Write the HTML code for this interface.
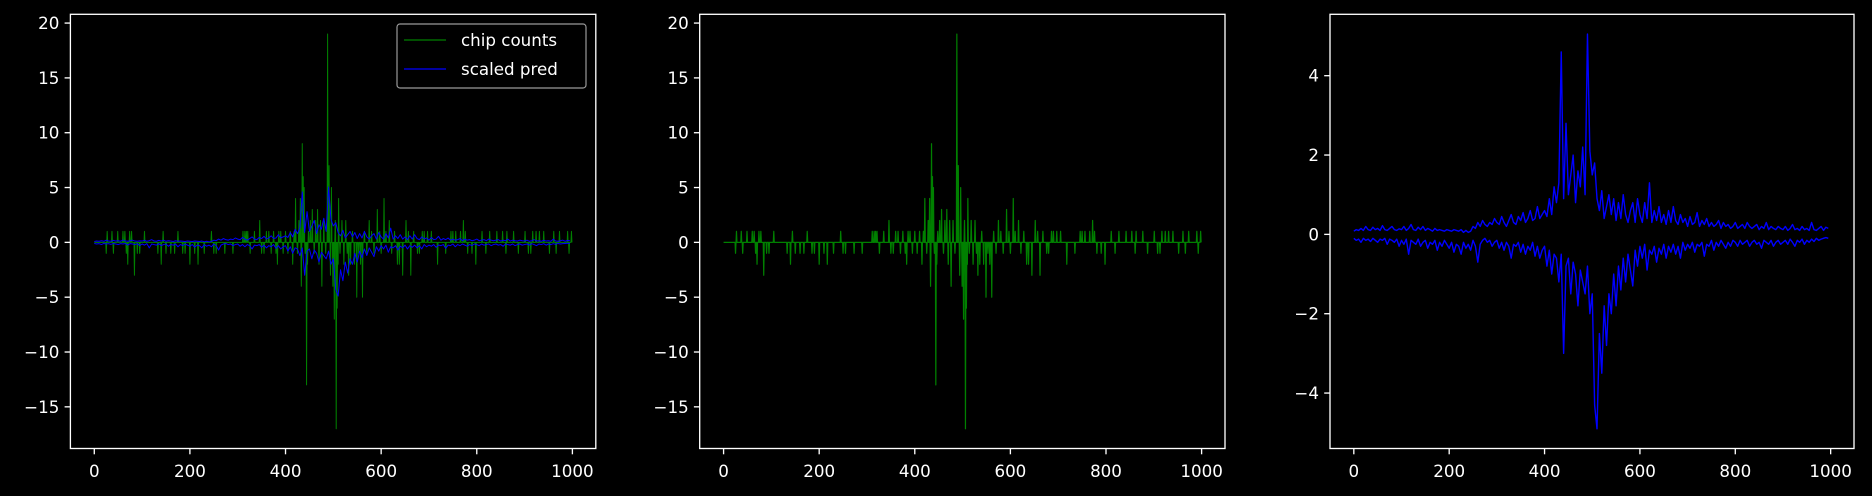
<!DOCTYPE html>
<html><head><meta charset="utf-8"><style>
html,body{margin:0;padding:0;background:#000;}
svg{display:block;font-family:"DejaVu Sans","Liberation Sans",sans-serif;}
</style></head><body>
<svg id="fig" width="1872" height="496" viewBox="0 0 1872 496" xmlns="http://www.w3.org/2000/svg">
<rect width="1872" height="496" fill="#000"/>
</svg>
<script>
const chipIdx = [25,27,37,40,49,60,64,67,70,74,78,84,90,95,105,133,140,144,150,160,168,175,185,190,200,210,217,230,245,250,255,273,290,311,315,318,321,326,335,346,350,355,360,365,370,375,380,383,386,390,395,400,405,410,415,418,421,425,428,431,433,435,437,439,441,444,446,448,452,456,460,463,467,470,473,476,480,484,488,491,494,496,499,502,504,506,508,510,511,514,518,522,526,529,532,536,540,544,549,553,557,561,565,570,575,580,585,592,597,600,606,610,617,622,628,634,638,645,652,657,662,668,676,680,686,690,697,705,718,735,746,750,756,766,772,776,781,790,798,811,819,827,842,854,861,863,877,887,901,908,913,917,924,931,940,952,961,966,973,990,993,998];
const chipVal = [-1,1,1,-1,1,1,1,-1,-2,1,1,-3,-1,-1,1,-1,-2,1,-1,-1,-1,1,-1,-1,-2,-1,-2,-1,1,-1,-1,-1,-1,1,1,1,1,-1,1,2,-1,-1,1,1,-1,1,-1,-2,1,1,-1,1,-1,1,-2,1,4,-1,2,4,-4,9,6,5,-1,-13,-2,1,2,3,-1,2,3,-2,2,-4,2,-1,19,7,-3,5,-4,-7,2,-17,-6,-2,4,-1,2,-2,2,-1,-3,-2,1,-2,-5,-1,-2,-5,1,-1,2,1,-1,3,1,-1,4,1,2,-1,1,-2,-2,-3,2,1,-3,1,-1,-1,1,1,1,1,-2,-1,1,1,1,1,2,1,-1,-1,-2,1,-1,1,1,1,-1,1,1,-1,1,-1,-1,1,1,1,1,-1,1,-1,1,1,-1,1];
const predStep = 5;
const predPos = [0.08,0.12,0.1,0.15,0.1,0.2,0.12,0.1,0.18,0.12,0.15,0.1,0.22,0.12,0.1,0.15,0.2,0.12,0.1,0.14,
0.12,0.2,0.1,0.15,0.25,0.12,0.1,0.18,0.12,0.2,0.1,0.15,0.12,0.08,0.15,0.1,0.12,0.1,0.08,0.12,
0.1,0.08,0.12,0.1,0.08,0.12,0.05,0.1,0.05,0.08,0.2,0.15,0.3,0.2,0.35,0.25,0.2,0.3,0.25,0.4,
0.3,0.25,0.45,0.3,0.2,0.35,0.5,0.3,0.25,0.45,0.35,0.55,0.3,0.4,0.6,0.35,0.4,0.7,0.4,0.5,
0.6,0.45,0.9,0.5,1.2,0.8,1.3,4.6,0.9,2.8,1.0,1.5,2.0,0.8,1.6,1.2,2.2,1.0,5.05,2.1,
1.5,1.8,0.9,0.6,1.1,0.4,0.7,1.0,0.5,0.9,0.35,0.8,0.4,1.0,0.5,0.3,0.6,0.8,0.3,0.9,
0.5,0.3,0.8,0.4,1.3,0.3,0.6,0.35,0.7,0.3,0.5,0.25,0.6,0.3,0.7,0.35,0.25,0.5,0.3,0.4,
0.2,0.45,0.25,0.3,0.55,0.2,0.35,0.25,0.4,0.2,0.3,0.2,0.25,0.35,0.15,0.3,0.2,0.25,0.15,0.2,
0.3,0.15,0.2,0.25,0.15,0.3,0.2,0.15,0.2,0.25,0.12,0.2,0.15,0.3,0.12,0.2,0.15,0.12,0.2,0.15,
0.12,0.2,0.1,0.15,0.25,0.12,0.15,0.1,0.2,0.12,0.15,0.1,0.3,0.12,0.1,0.15,0.2,0.1,0.18,0.15];
const predNeg = [-0.1,-0.15,-0.12,-0.2,-0.1,-0.15,-0.12,-0.18,-0.1,-0.15,-0.2,-0.12,-0.15,-0.1,-0.25,-0.12,-0.15,-0.2,-0.12,-0.3,
-0.15,-0.25,-0.12,-0.5,-0.15,-0.2,-0.25,-0.12,-0.3,-0.2,-0.15,-0.35,-0.2,-0.25,-0.15,-0.4,-0.2,-0.3,-0.15,-0.25,
-0.35,-0.2,-0.45,-0.25,-0.3,-0.5,-0.2,-0.35,-0.25,-0.4,-0.15,-0.3,-0.7,-0.25,-0.15,-0.1,-0.2,-0.15,-0.3,-0.2,
-0.15,-0.35,-0.2,-0.4,-0.2,-0.3,-0.6,-0.25,-0.3,-0.2,-0.45,-0.25,-0.5,-0.3,-0.4,-0.2,-0.55,-0.3,-0.6,-0.4,
-0.3,-0.8,-0.4,-1.0,-0.5,-0.6,-1.2,-0.5,-3.0,-0.8,-0.6,-1.5,-0.7,-1.0,-1.8,-0.9,-1.2,-1.5,-0.8,-2.0,
-1.5,-4.3,-4.9,-2.5,-3.5,-1.8,-2.8,-1.5,-2.0,-1.0,-1.8,-0.8,-1.4,-0.6,-1.2,-0.5,-0.9,-1.3,-0.4,-0.8,
-0.3,-0.6,-0.25,-0.9,-0.4,-0.5,-0.3,-0.7,-0.35,-0.5,-0.25,-0.6,-0.3,-0.45,-0.25,-0.5,-0.3,-0.6,-0.2,-0.4,
-0.25,-0.35,-0.2,-0.45,-0.25,-0.3,-0.2,-0.55,-0.25,-0.3,-0.15,-0.4,-0.2,-0.3,-0.15,-0.25,-0.35,-0.2,-0.3,-0.15,
-0.2,-0.3,-0.15,-0.25,-0.2,-0.15,-0.3,-0.2,-0.15,-0.25,-0.2,-0.35,-0.15,-0.2,-0.25,-0.15,-0.3,-0.2,-0.15,-0.25,
-0.2,-0.15,-0.25,-0.12,-0.2,-0.3,-0.15,-0.2,-0.12,-0.25,-0.15,-0.2,-0.12,-0.18,-0.1,-0.15,-0.12,-0.1,-0.08,-0.1];
const xTicks = [0,200,400,600,800,1000];
const yTicksChip = [-15,-10,-5,0,5,10,15,20];
const yTicksPred = [-4,-2,0,2,4];
const nPoints = 1000;

const NS = 'http://www.w3.org/2000/svg';
const svg = document.getElementById('fig');
function mk(tag, attrs, parent){ const e=document.createElementNS(NS,tag); for(const k in attrs) e.setAttribute(k,attrs[k]); (parent||svg).appendChild(e); return e; }

const chip = new Array(nPoints).fill(0);
chipIdx.forEach((ix,i)=>{ const v=chipVal[i]; if(typeof v==='number' && isFinite(v)) chip[ix]=v; });
const allPos = predPos.map((v,i)=>[i*predStep,v]);
const allNeg = predNeg.map((v,i)=>[i*predStep,v]);

const T=14.3, B=448.5;
function lim(vals){ let lo=Infinity,hi=-Infinity; vals.forEach(v=>{ if(isFinite(v)){ if(v<lo)lo=v; if(v>hi)hi=v; } }); const m=(hi-lo)*0.05; return [lo-m,hi+m]; }
const chipLim = lim(chip.concat(predPos,predNeg));
const predLim = lim(predPos.concat(predNeg));

function panel(name, L, R, ylim, yTicks, series, legend){
  const g = mk('g',{});
  
  
  const xlo=-0.05*(nPoints-1), xhi=(nPoints-1)*1.05;
  const sx = v=> L+(v-xlo)/(xhi-xlo)*(R-L);
  const sy = v=> B-(v-ylim[0])/(ylim[1]-ylim[0])*(B-T);
  const clipId='clip-'+name;
  const cp=mk('clipPath',{id:clipId},g); mk('rect',{x:L,y:T,width:R-L,height:B-T},cp);
  series.forEach(s=>{
    const d = s.pts.map((p,i)=>(i?'L':'M')+sx(p[0]).toFixed(2)+' '+sy(p[1]).toFixed(2)).join('');
    const p = mk('path',{d:d,fill:'none',stroke:s.color,'stroke-width':s.w,'stroke-linejoin':'round','clip-path':'url(#'+clipId+')'},g);
    
    
  });
  const frame = mk('rect',{x:L,y:T,width:R-L,height:B-T,fill:'none',stroke:'#fff','stroke-width':1.33},g);
  
  
  xTicks.forEach(t=>{
    const x=sx(t);
    mk('line',{x1:x,y1:B,x2:x,y2:B+5.8,stroke:'#fff','stroke-width':1.33},g);
    const tx=mk('text',{x:x,y:477,fill:'#fff','font-size':16.7,'text-anchor':'middle'},g);
    tx.textContent=t;
    
    
  });
  yTicks.forEach(t=>{
    const y=sy(t);
    mk('line',{x1:L,y1:y,x2:L-5.8,y2:y,stroke:'#fff','stroke-width':1.33},g);
    const tx=mk('text',{x:L-11,y:y+6,fill:'#fff','font-size':16.7,'text-anchor':'end'},g);
    tx.textContent=(t<0?'\u2212'+(-t):t);
    
    
  });
  if(legend){
    const lg=mk('g',{},g);
    
    
    mk('rect',{x:397,y:24,width:189,height:64,rx:3,fill:'#000',stroke:'#999','stroke-width':1.2},lg);
    [['chip counts','#008000',40],['scaled pred','#0000ff',69]].forEach(e=>{
      const en=mk('g',{},lg);
      
      
      mk('line',{x1:404,y1:e[2],x2:446,y2:e[2],stroke:e[1],'stroke-width':1.2},en);
      const t=mk('text',{x:461,y:e[2]+6,fill:'#fff','font-size':16.7},en);
      t.textContent=e[0];
    });
  }
}
const chipPts = chip.map((v,i)=>[i,v]);
panel('panel-combined',70.4,595.8,chipLim,yTicksChip,[
  {name:'chip-counts-line',pts:chipPts,color:'#008000',w:1},
  {name:'pred-pos-line',pts:allPos,color:'#0000ff',w:1},
  {name:'pred-neg-line',pts:allNeg,color:'#0000ff',w:1}],true);
panel('panel-chip',699.7,1225,chipLim,yTicksChip,[
  {name:'chip-counts-line',pts:chipPts,color:'#008000',w:1.2}],false);
panel('panel-pred',1330,1854,predLim,yTicksPred,[
  {name:'pred-pos-line',pts:allPos,color:'#0000ff',w:1.4},
  {name:'pred-neg-line',pts:allNeg,color:'#0000ff',w:1.4}],false);
</script>
</body></html>
